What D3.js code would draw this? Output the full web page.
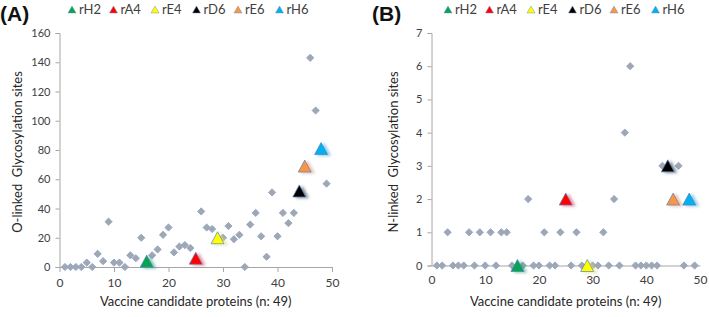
<html>
<head>
<script src="https://cdn.jsdelivr.net/npm/d3@7"></script>
<style>
  body { margin: 0; background: #fff; }
  text { font-family: Lato, "Open Sans", sans-serif; }
</style>
</head>
<body>
<svg id="cont" width="709" height="317"></svg>
<script>
// protein index 1..49 (position in list)
var oLinked = [0,0,0,0,3,0,9,4,31,3,3,0,8,6,20,4,8,12,22,27,10,14,15,13,6,38,27,26,20,20,28,19,22,0,29,37,21,7,51,21,37,30,37,52,69,143,107,81,57];
var nLinked = [0,0,1,0,0,0,1,0,1,0,1,0,1,1,0,0,0,2,0,0,1,0,0,1,2,0,1,0,0,0,0,1,0,2,0,4,6,0,0,0,0,0,3,3,2,3,0,2,0];
var candNames = ["rH2","rA4","rE4","rD6","rE6","rH6"];
var candIndex = [16,25,29,44,45,48];
var candColors = ["#00a651","#ff0000","#ffff00","#000000","#f79646","#00b0f0"];
var yTicksA = [0,20,40,60,80,100,120,140,160];
var yTicksB = [0,1,2,3,4,5,6,7];
var xTicks = [0,10,20,30,40,50];

var svg = d3.select("#cont");

var defs = svg.append("defs");
var f = defs.append("filter").attr("id","sh").attr("x","-50%").attr("y","-50%").attr("width","220%").attr("height","200%");
f.append("feGaussianBlur").attr("in","SourceGraphic").attr("stdDeviation",1.6).attr("result","b");
f.append("feOffset").attr("in","b").attr("dx",3).attr("dy",0.5).attr("result","o");
f.append("feComponentTransfer").attr("in","o").attr("result","t")
  .append("feFuncA").attr("type","linear").attr("slope",0.55);
var m = f.append("feMerge");
m.append("feMergeNode").attr("in","t");
m.append("feMergeNode").attr("in","SourceGraphic");

function tri(w, h) {
  return "M0," + (-h/2) + "L" + (w/2) + "," + (h/2) + "L" + (-w/2) + "," + (h/2) + "Z";
}
var diamond = "M0,-3.6L3.6,0L0,3.6L-3.6,0Z";

function panel(p) {
  var x = d3.scaleLinear().domain([0,50]).range(p.xr);
  var y = d3.scaleLinear().domain([0,p.ymax]).range(p.yr);
  var g = svg.append("g");

  // panel letter
  g.append("text").attr("x", p.lx).attr("y", 21)
    .style("font-family","'Liberation Sans', Arial, sans-serif")
    .style("font-weight","bold").style("font-size","21px").attr("fill","#111").text(p.letter);

  // legend
  candNames.forEach(function(n, i) {
    var lx = p.legX + i * 41.5;
    g.append("path").attr("d", tri(8, 7)).attr("transform","translate(" + lx + ",9.5)")
      .attr("fill", candColors[i]).attr("stroke","#7f8fb0").attr("stroke-width",0.5);
    g.append("text").attr("x", lx + 7).attr("y", 14).style("font-size","13px")
      .attr("fill","#404040").text(n);
  });

  // y axis
  var ya = g.append("g").attr("transform","translate(" + p.xr[0] + ",0)")
    .call(d3.axisLeft(y).tickValues(p.yTicks).tickFormat(d3.format("d")).tickSize(4).tickPadding(5));
  ya.select(".domain").attr("stroke","#a6a6a6");
  ya.selectAll(".tick line").attr("stroke","#a6a6a6");
  ya.selectAll(".tick text").attr("fill","#404040").style("font-size","11px").style("font-family","Lato, sans-serif");

  // x axis
  var xa = g.append("g").attr("transform","translate(0," + p.yr[0] + ")")
    .call(d3.axisBottom(x).tickValues(xTicks).tickSize(p.xTick).tickSizeOuter(0).tickPadding(p.xTick ? 6 : 10));
  xa.select(".domain").attr("stroke","#a6a6a6");
  xa.selectAll(".tick line").attr("stroke","#a6a6a6");
  xa.selectAll(".tick text").attr("fill","#404040").style("font-size","12px").style("font-family","Lato, sans-serif");

  // titles
  g.append("text").attr("transform","translate(" + p.ytx + "," + p.yty + ") rotate(-90)")
    .attr("text-anchor","middle").style("font-size","13px").attr("fill","#262626")
    .style("white-space","pre").attr("xml:space","preserve").text(p.ytitle);
  g.append("text").attr("x", (p.xr[0] + p.xr[1]) / 2).attr("y", 306)
    .attr("text-anchor","middle").style("font-size","13px").attr("fill","#262626")
    .text("Vaccine candidate proteins (n: 49)");

  // diamonds
  var pts = p.vals.map(function(v, i) { return {i: i + 1, v: v}; })
    .filter(function(d) { return candIndex.indexOf(d.i) < 0; });
  g.selectAll(".pt").data(pts).enter().append("path")
    .attr("d", diamond)
    .attr("transform", function(d) { return "translate(" + x(d.i) + "," + y(d.v) + ")"; })
    .attr("fill","#a6a6a6").attr("stroke","#8eaadb").attr("stroke-width",1);

  // candidate triangles
  g.selectAll(".cand").data(candIndex).enter().append("path")
    .attr("d", tri(13, 12))
    .attr("transform", function(d) { return "translate(" + x(d) + "," + y(p.vals[d - 1]) + ")"; })
    .attr("fill", function(d, i) { return candColors[i]; })
    .attr("stroke","#5a7fb5").attr("stroke-width",0.7)
    .attr("filter","url(#sh)");
}

panel({letter:"(A)", lx:0, legX:72, xr:[59.5,332], yr:[267,33], ymax:160, yTicks:yTicksA, xTick:5,
  vals:oLinked, ytitle:"O-linked  Glycosylation sites", ytx:22, yty:152});
panel({letter:"(B)", lx:372, legX:448, xr:[431.5,700], yr:[265.5,33], ymax:7, yTicks:yTicksB, xTick:0,
  vals:nLinked, ytitle:"N-linked  Glycosylation sites", ytx:398, yty:152});
</script>
</body>
</html>
